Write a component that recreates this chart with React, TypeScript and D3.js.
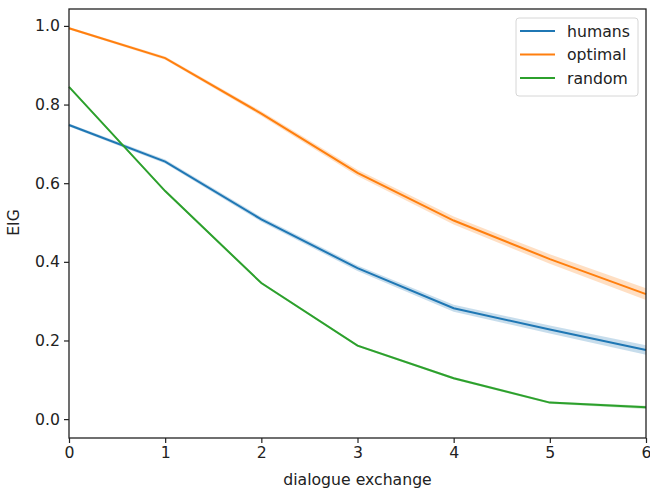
import React, { useEffect, useRef } from 'react';
import * as d3 from 'd3';

// dialogue exchange index
const exchanges = [0, 1, 2, 3, 4, 5, 6];

// mean EIG per series
const humans = [0.748, 0.655, 0.508, 0.384, 0.282, 0.228, 0.176];
const optimal = [0.994, 0.918, 0.777, 0.626, 0.505, 0.407, 0.318];
const random = [0.845, 0.58, 0.346, 0.187, 0.104, 0.042, 0.03];

// half-width of the confidence band
const humansCi = [0.004, 0.005, 0.006, 0.007, 0.009, 0.01, 0.012];
const optimalCi = [0.003, 0.004, 0.006, 0.008, 0.01, 0.012, 0.015];
const randomCi = [0.002, 0.003, 0.003, 0.003, 0.003, 0.003, 0.004];

const yTicks = [0.0, 0.2, 0.4, 0.6, 0.8, 1.0];
const xTicks = [0, 1, 2, 3, 4, 5, 6];

const seriesNames = ['humans', 'optimal', 'random'];
const colors = ['#1f77b4', '#ff7f0e', '#2ca02c'];

function EigChart() {
  const ref = useRef<SVGSVGElement>(null);
  const width = 650;
  const height = 492;
  const margin = { top: 9, right: 4, bottom: 54, left: 69 };

  useEffect(() => {
    const svg = d3.select(ref.current);
    svg.selectAll('*').remove();

    const x = d3
      .scaleLinear()
      .domain([0, 6])
      .range([margin.left, width - margin.right]);
    const y = d3
      .scaleLinear()
      .domain([-0.048, 1.043])
      .range([height - margin.bottom, margin.top]);

    const font = 'DejaVu Sans, sans-serif';
    const fs = 15.7;
    const all = [
      { vals: humans, ci: humansCi },
      { vals: optimal, ci: optimalCi },
      { vals: random, ci: randomCi },
    ];

    const line = d3
      .line<number>()
      .x((d, i) => x(exchanges[i]))
      .y((d) => y(d));

    const plot = svg.append('g');
    all.forEach((s, k) => {
      const band = d3
        .area<number>()
        .x((d, i) => x(exchanges[i]))
        .y0((d, i) => y(d - s.ci[i]))
        .y1((d, i) => y(d + s.ci[i]));
      plot
        .append('path')
        .attr('d', band(s.vals))
        .attr('fill', colors[k])
        .attr('fill-opacity', 0.25);
    });
    all.forEach((s, k) => {
      plot
        .append('path')
        .attr('d', line(s.vals))
        .attr('fill', 'none')
        .attr('stroke', colors[k])
        .attr('stroke-width', 2);
    });

    // axes
    const xAxis = svg
      .append('g')
      .attr('transform', `translate(0,${height - margin.bottom})`)
      .call(
        d3
          .axisBottom(x)
          .tickValues(xTicks)
          .tickFormat(d3.format('d'))
          .tickSize(5)
          .tickPadding(4)
      );
    const yAxis = svg
      .append('g')
      .attr('transform', `translate(${margin.left},0)`)
      .call(
        d3
          .axisLeft(y)
          .tickValues(yTicks)
          .tickFormat(d3.format('.1f'))
          .tickSize(5)
          .tickPadding(4)
      );
    [xAxis, yAxis].forEach((a) => {
      a.select('.domain').remove();
      a.selectAll('text')
        .attr('font-family', font)
        .attr('font-size', fs)
        .attr('fill', '#222');
      a.selectAll('line').attr('stroke', '#222').attr('stroke-width', 1.2);
    });

    // frame
    svg
      .append('rect')
      .attr('x', margin.left)
      .attr('y', margin.top)
      .attr('width', width - margin.left - margin.right)
      .attr('height', height - margin.top - margin.bottom)
      .attr('fill', 'none')
      .attr('stroke', '#222')
      .attr('stroke-width', 1.3);

    svg
      .append('text')
      .attr('x', (margin.left + width - margin.right) / 2)
      .attr('y', 485)
      .attr('text-anchor', 'middle')
      .attr('font-family', font)
      .attr('font-size', fs)
      .attr('fill', '#222')
      .text('dialogue exchange');

    svg
      .append('text')
      .attr('transform', `translate(19,${y(0.5)}) rotate(-90)`)
      .attr('text-anchor', 'middle')
      .attr('font-family', font)
      .attr('font-size', fs)
      .attr('fill', '#222')
      .text('EIG');

    // legend
    const lg = svg.append('g');
    lg.append('rect')
      .attr('x', 516)
      .attr('y', 18)
      .attr('width', 122)
      .attr('height', 78)
      .attr('rx', 3)
      .attr('fill', 'white')
      .attr('fill-opacity', 0.8)
      .attr('stroke', '#d6d6d6');
    seriesNames.forEach((name, k) => {
      const cy = 31 + k * 23.5;
      lg.append('line')
        .attr('x1', 520)
        .attr('x2', 555)
        .attr('y1', cy)
        .attr('y2', cy)
        .attr('stroke', colors[k])
        .attr('stroke-width', 2);
      lg.append('text')
        .attr('x', 567)
        .attr('y', cy + 5.5)
        .attr('font-family', font)
        .attr('font-size', fs)
        .attr('fill', '#222')
        .text(name);
    });
  }, []);

  return (
    <svg
      ref={ref}
      width={width}
      height={height}
      style={{ position: 'absolute', left: 0, top: 0, background: 'white' }}
    />
  );
}

export default function App() {
  return <EigChart />;
}
